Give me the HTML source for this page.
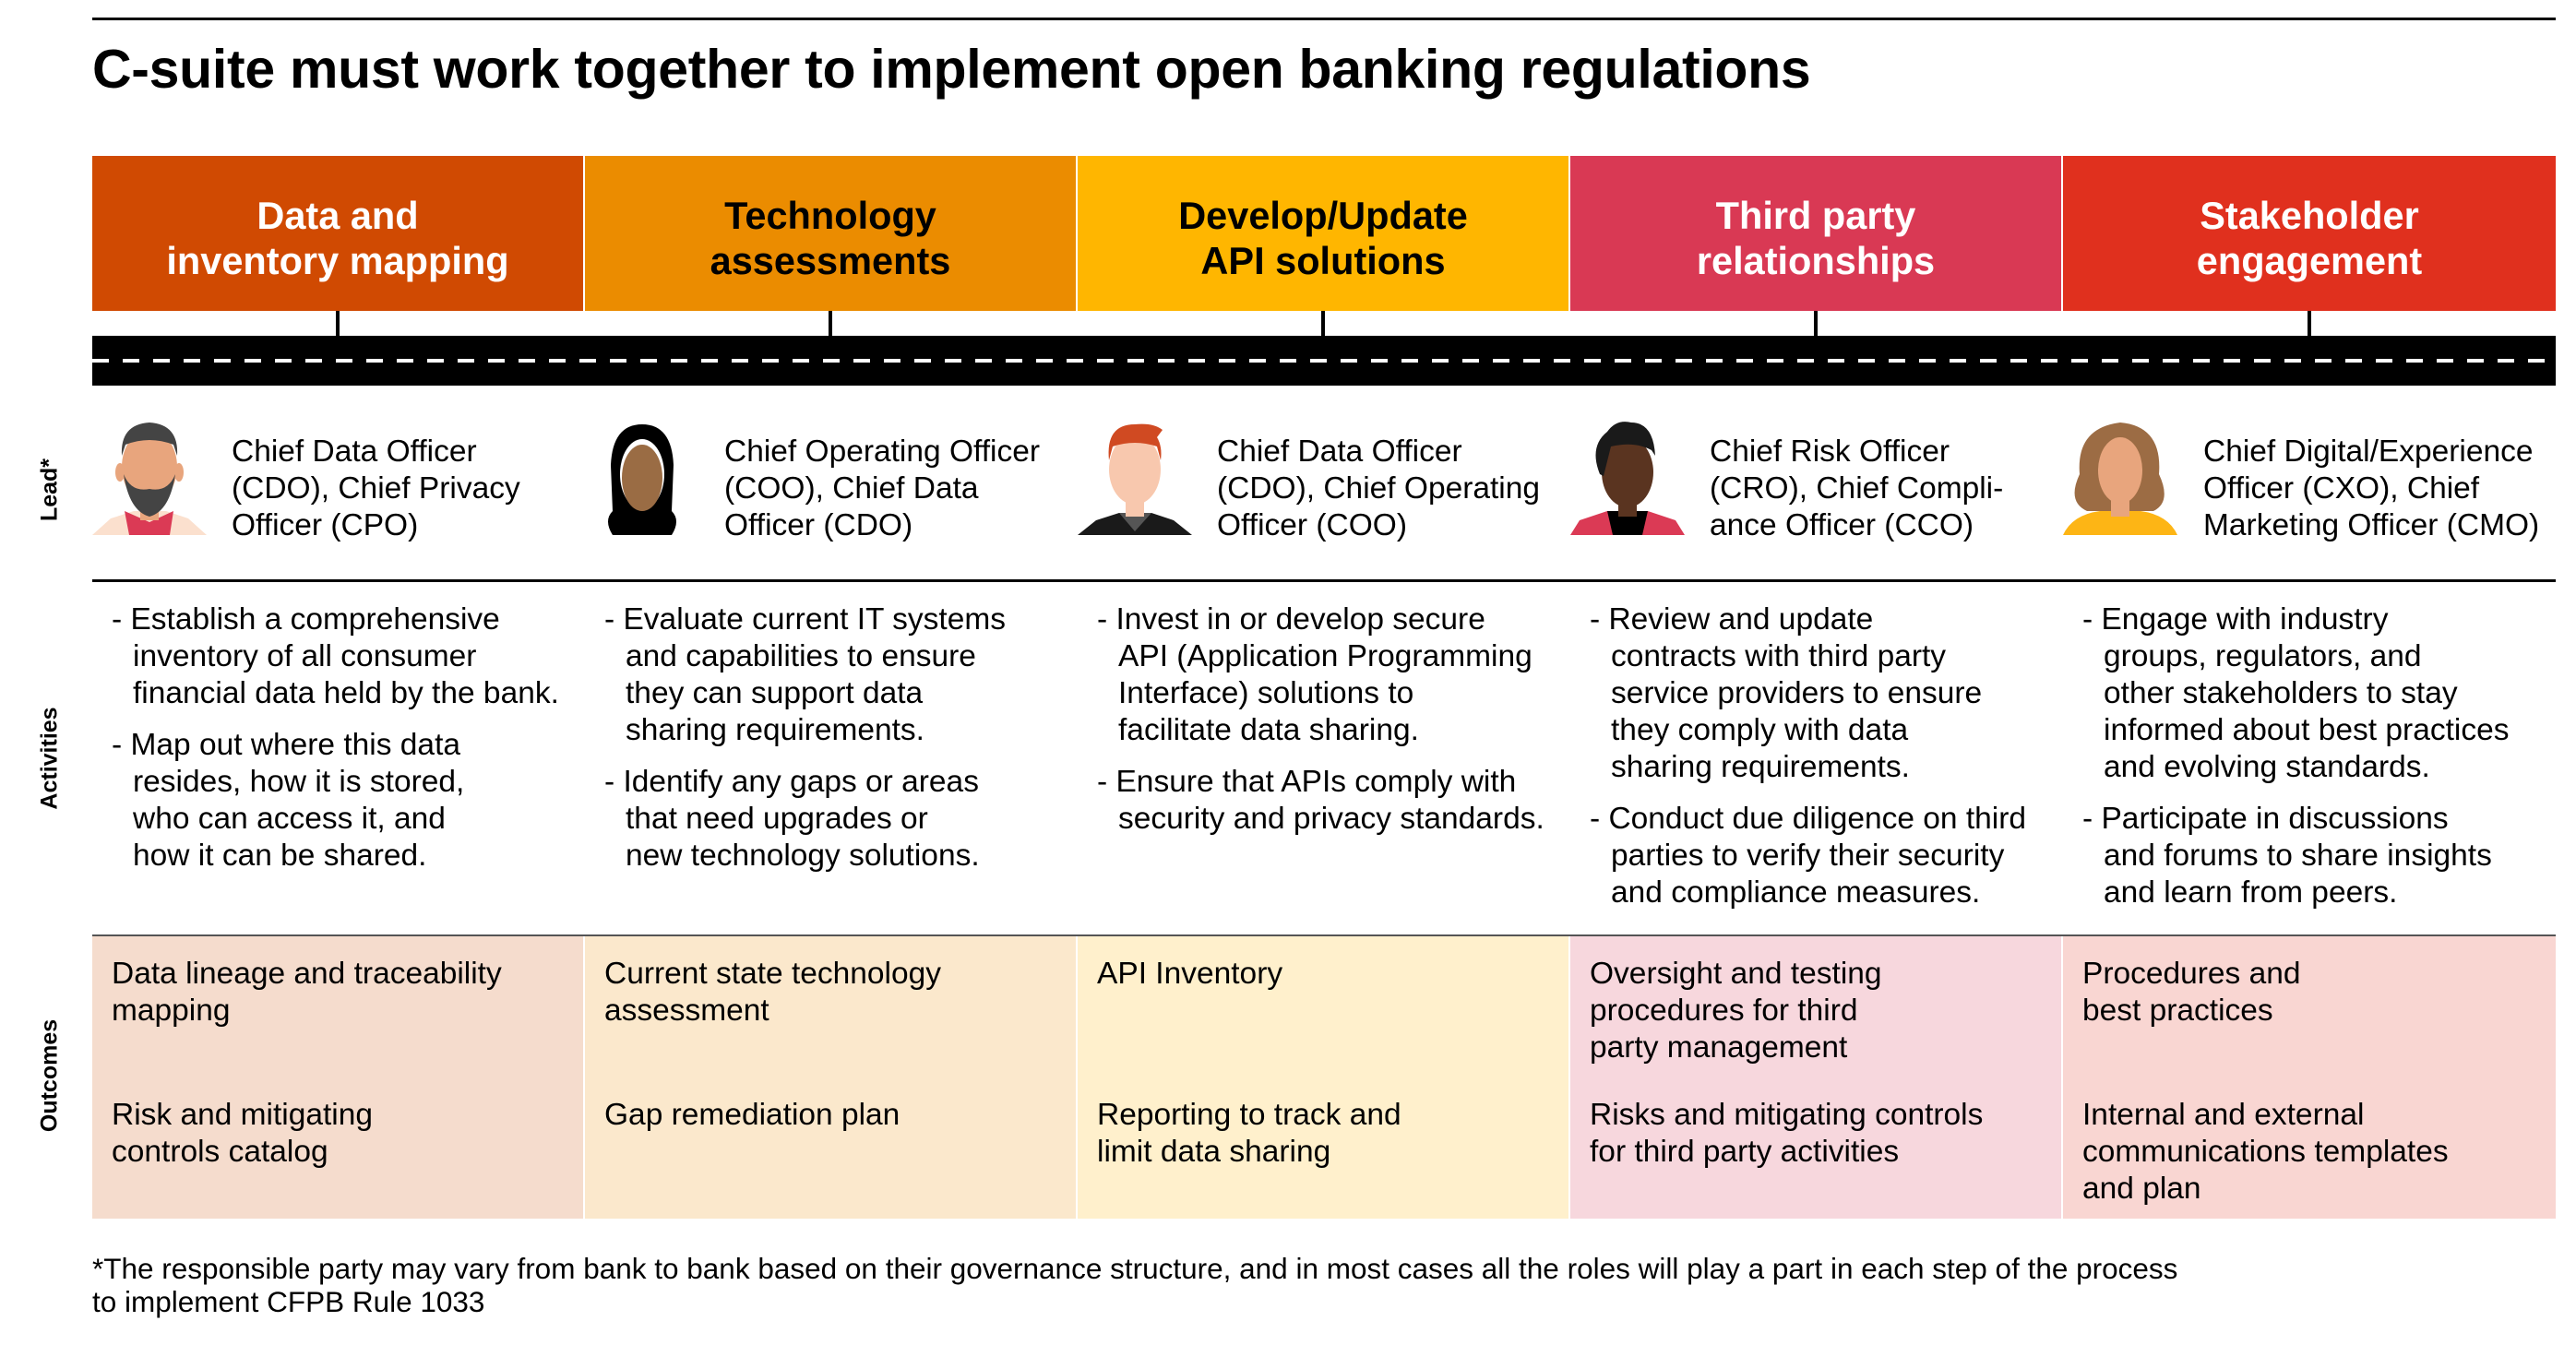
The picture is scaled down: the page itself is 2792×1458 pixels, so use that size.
<!DOCTYPE html>
<html><head><meta charset="utf-8">
<style>
*{margin:0;padding:0;box-sizing:border-box}
body{width:2792px;height:1458px;background:#fff;position:relative;overflow:hidden;font-family:"Liberation Sans",Arial,sans-serif;color:#000}
.a{position:absolute}
.title{left:100px;top:46px;font-size:59px;font-weight:bold;line-height:59px;white-space:nowrap;letter-spacing:-0.3px}
.hdr{top:169px;height:168px;display:flex;align-items:flex-start;justify-content:center;text-align:center;font-size:41.5px;font-weight:bold;line-height:49px;padding-top:40px}
.tick{top:337px;width:4px;height:27px;background:#000}
.lead{top:470px;font-size:33.5px;line-height:40px;white-space:nowrap}
.act{top:652px;font-size:33.5px;line-height:40px}
.act p{padding-left:23px;text-indent:-23px;margin-bottom:16px;white-space:nowrap}
.out{top:1014px;height:307px}
.ot{font-size:33.5px;line-height:40px;white-space:nowrap;position:absolute;left:21px}
.vl{font-size:25px;font-weight:bold;transform:translate(-50%,-50%) rotate(-90deg);white-space:nowrap;left:54px}
.foot{left:100px;top:1357px;font-size:31.5px;line-height:36px;white-space:nowrap}
</style></head><body>
<div class="a" style="left:100px;top:19px;width:2670px;height:3px;background:#000"></div>
<div class="a title">C-suite must work together to implement open banking regulations</div>

<div class="a hdr" style="left:100px;width:532px;background:#D04A02;color:#fff">Data and<br>inventory mapping</div>
<div class="a hdr" style="left:634px;width:532px;background:#EB8C00">Technology<br>assessments</div>
<div class="a hdr" style="left:1168px;width:532px;background:#FFB600">Develop/Update<br>API solutions</div>
<div class="a hdr" style="left:1702px;width:532px;background:#D93954;color:#fff">Third party<br>relationships</div>
<div class="a hdr" style="left:2236px;width:534px;background:#E0301E;color:#fff">Stakeholder<br>engagement</div>

<div class="a tick" style="left:364px"></div>
<div class="a tick" style="left:898px"></div>
<div class="a tick" style="left:1432px"></div>
<div class="a tick" style="left:1966px"></div>
<div class="a tick" style="left:2501px"></div>

<div class="a" style="left:100px;top:364px;width:2670px;height:54px;background:#000"></div>
<div class="a" style="left:100px;top:389px;width:2670px;height:4px;background:repeating-linear-gradient(90deg,#fff 0 18px,transparent 18px 33px)"></div>

<!-- avatars -->
<svg class="a" style="left:100px;top:454px" width="124" height="126" viewBox="0 0 124 126">
<path d="M0 126 L20 108 L45 100 L80 100 L104 108 L124 126Z" fill="#FBE0CE"/>
<path d="M35 100 L40 126 L84 126 L88 100 L62 112Z" fill="#DB3A55"/>
<rect x="52" y="80" width="20" height="30" fill="#E8A57D"/>
<ellipse cx="62" cy="52" rx="30" ry="40" fill="#E8A57D"/>
<ellipse cx="30" cy="58" rx="5" ry="10" fill="#E8A57D"/><ellipse cx="94" cy="58" rx="5" ry="10" fill="#E8A57D"/>
<path d="M32 40 Q30 6 62 4 Q94 6 92 40 L88 28 Q62 18 36 28Z" fill="#444"/>
<path d="M34 60 Q40 100 62 106 Q84 100 90 60 Q82 80 62 76 Q42 80 34 60Z" fill="#444"/>
</svg>
<svg class="a" style="left:634px;top:454px" width="124" height="126" viewBox="0 0 124 126">
<path d="M30 126 Q20 110 30 100 L28 50 Q30 6 62 6 Q94 6 96 50 L94 100 Q104 110 94 126Z" fill="#000"/>
<ellipse cx="62" cy="60" rx="24" ry="38" fill="#fff"/>
<ellipse cx="62" cy="64" rx="22" ry="36" fill="#9A6C44"/>
</svg>
<svg class="a" style="left:1168px;top:454px" width="124" height="126" viewBox="0 0 124 126">
<path d="M0 126 L20 110 L45 102 L80 102 L104 110 L124 126Z" fill="#1a1a1a"/>
<path d="M45 102 L62 122 L80 102Z" fill="#555"/>
<rect x="52" y="80" width="20" height="26" fill="#F8C8AE"/>
<ellipse cx="62" cy="55" rx="28" ry="38" fill="#F8C8AE"/>
<path d="M34 45 Q30 6 62 6 Q82 4 92 12 L86 20 Q92 30 90 45 L86 30 Q62 22 38 30Z" fill="#D04A22"/>
</svg>
<svg class="a" style="left:1702px;top:454px" width="124" height="126" viewBox="0 0 124 126">
<path d="M0 126 L10 110 L40 100 L84 100 L114 110 L124 126Z" fill="#DB3A55"/>
<path d="M40 100 L46 126 L78 126 L84 100Z" fill="#000"/>
<rect x="52" y="82" width="20" height="24" fill="#5a3420"/>
<ellipse cx="62" cy="58" rx="28" ry="38" fill="#5a3420"/>
<path d="M32 60 Q20 30 40 14 Q50 0 66 4 Q90 4 92 40 L88 34 Q70 24 44 30 L36 62Z" fill="#1a1a1a"/>
</svg>
<svg class="a" style="left:2236px;top:454px" width="124" height="126" viewBox="0 0 124 126">
<path d="M26 100 Q4 90 18 60 Q14 10 62 4 Q108 8 104 60 Q118 90 98 100Z" fill="#9C6C44"/>
<path d="M0 126 Q10 104 40 100 L84 100 Q114 104 124 126Z" fill="#FDB515"/>
<rect x="52" y="80" width="20" height="26" fill="#E8A57D"/>
<ellipse cx="62" cy="56" rx="24" ry="36" fill="#E8A57D"/>
</svg>

<div class="a lead" style="left:251px">Chief Data Officer<br>(CDO), Chief Privacy<br>Officer (CPO)</div>
<div class="a lead" style="left:785px">Chief Operating Officer<br>(COO), Chief Data<br>Officer (CDO)</div>
<div class="a lead" style="left:1319px">Chief Data Officer<br>(CDO), Chief Operating<br>Officer (COO)</div>
<div class="a lead" style="left:1853px">Chief Risk Officer<br>(CRO), Chief Compli-<br>ance Officer (CCO)</div>
<div class="a lead" style="left:2388px">Chief Digital/Experience<br>Officer (CXO), Chief<br>Marketing Officer (CMO)</div>

<div class="a" style="left:100px;top:628px;width:2670px;height:3px;background:#000"></div>

<div class="a act" style="left:121px"><p>- Establish a comprehensive<br>inventory of all consumer<br>financial data held by the bank.</p><p>- Map out where this data<br>resides, how it is stored,<br>who can access it, and<br>how it can be shared.</p></div>
<div class="a act" style="left:655px"><p>- Evaluate current IT systems<br>and capabilities to ensure<br>they can support data<br>sharing requirements.</p><p>- Identify any gaps or areas<br>that need upgrades or<br>new technology solutions.</p></div>
<div class="a act" style="left:1189px"><p>- Invest in or develop secure<br>API (Application Programming<br>Interface) solutions to<br>facilitate data sharing.</p><p>- Ensure that APIs comply with<br>security and privacy standards.</p></div>
<div class="a act" style="left:1723px"><p>- Review and update<br>contracts with third party<br>service providers to ensure<br>they comply with data<br>sharing requirements.</p><p>- Conduct due diligence on third<br>parties to verify their security<br>and compliance measures.</p></div>
<div class="a act" style="left:2257px"><p>- Engage with industry<br>groups, regulators, and<br>other stakeholders to stay<br>informed about best practices<br>and evolving standards.</p><p>- Participate in discussions<br>and forums to share insights<br>and learn from peers.</p></div>

<div class="a out" style="left:100px;width:532px;background:#F5DCCD"><div class="ot" style="top:22px">Data lineage and traceability<br>mapping</div><div class="ot" style="top:175px">Risk and mitigating<br>controls catalog</div></div>
<div class="a out" style="left:634px;width:532px;background:#FBE8CC"><div class="ot" style="top:22px">Current state technology<br>assessment</div><div class="ot" style="top:175px">Gap remediation plan</div></div>
<div class="a out" style="left:1168px;width:532px;background:#FFF0CC"><div class="ot" style="top:22px">API Inventory</div><div class="ot" style="top:175px">Reporting to track and<br>limit data sharing</div></div>
<div class="a out" style="left:1702px;width:532px;background:#F7D7DD"><div class="ot" style="top:22px">Oversight and testing<br>procedures for third<br>party management</div><div class="ot" style="top:175px">Risks and mitigating controls<br>for third party activities</div></div>
<div class="a out" style="left:2236px;width:534px;background:#F9D6D2"><div class="ot" style="top:22px">Procedures and<br>best practices</div><div class="ot" style="top:175px">Internal and external<br>communications templates<br>and plan</div></div>
<div class="a" style="left:100px;top:1013px;width:2670px;height:2px;background:#555"></div>

<div class="a vl" style="top:531px">Lead*</div>
<div class="a vl" style="top:822px">Activities</div>
<div class="a vl" style="top:1166px">Outcomes</div>

<div class="a foot">*The responsible party may vary from bank to bank based on their governance structure, and in most cases all the roles will play a part in each step of the process<br>to implement CFPB Rule 1033</div>
</body></html>
